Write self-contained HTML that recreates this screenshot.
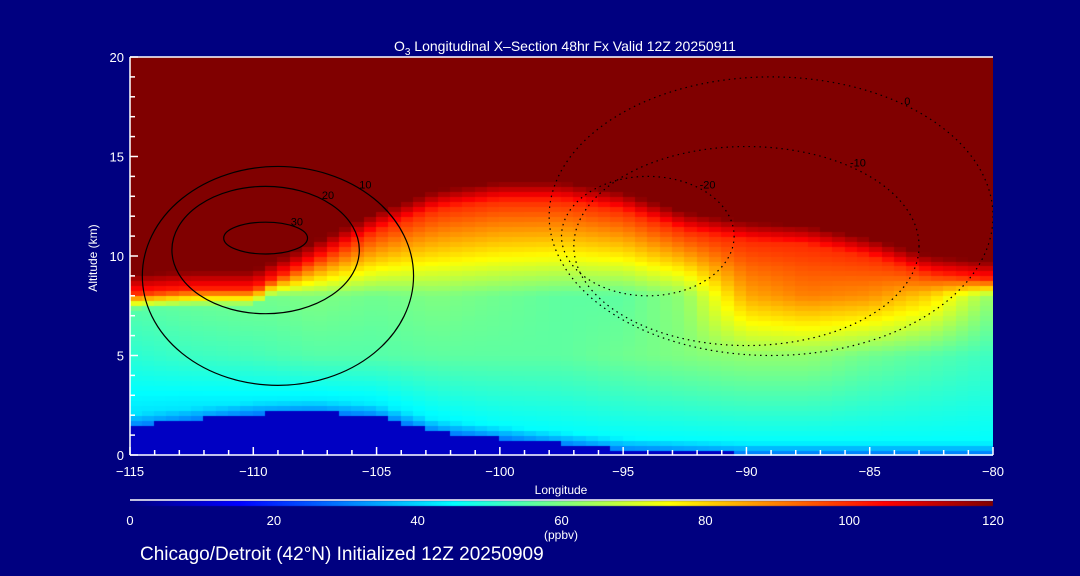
<!DOCTYPE html>
<html><head><meta charset="utf-8"><style>
html,body{margin:0;padding:0;background:#000080;}
#wrap{position:relative;width:1080px;height:576px;background:#000080;overflow:hidden;font-family:"Liberation Sans",sans-serif;color:#fff;}
canvas{position:absolute;left:0;top:0;}
svg{position:absolute;left:0;top:0;}
</style></head><body>
<div id="wrap">
<canvas id="field" width="1080" height="576"></canvas>
<svg id="ov" width="1080" height="576"></svg>
</div>
<script>
// data
const lonCols=[-115,-112.5,-110,-107.5,-105,-102.5,-100,-97.5,-95,-92.5,-90,-87.5,-85,-82.5,-80];
const tropoKm=[9.3,9.5,9.5,11,12.5,13.6,14,14,13.5,12.5,12,11.8,11.2,10.3,10];
const surfaceKm=[1.5,1.8,2.1,2.2,2.0,1.2,0.9,0.6,0.3,0.2,0.1,0.1,0.1,0.1,0.1];
const lowVals=[42,42,43,43,43,44,45,45,45,45,45,45,45,45,45];
const midVals=[50,52,53,55,55,56,56,56,58,60,62,62,58,55,52];
const upVals=[55,57,58,60,58,60,58,56,56,62,85,90,88,80,62];
const xTicks=[-115,-110,-105,-100,-95,-90,-85,-80];
const yTicks=[0,5,10,15,20];
const cbTicks=[0,20,40,60,80,100,120];
// contours: center lon, center alt, half-width lon, half-height km, label, dotted
const contourCx=[-109.5,-109.5,-109,-94,-90,-89];
const contourCy=[10.9,10.3,9,11,10.5,12];
const contourRx=[1.7,3.8,5.5,3.5,7,9];
const contourRy=[0.8,3.2,5.5,3,5,7];
const contourLbl=['30','20','10','-20','-10','0'];
const contourDot=[0,0,0,1,1,1];

const X0=130,X1=993,Y0=455,Y1=57;
const xs=l=>X0+(l+115)/35*(X1-X0);
const ys=a=>Y0-a/20*(Y0-Y1);
function jet(v){let t=Math.max(0,Math.min(1,v/120));
 const f=(a)=>Math.max(0,Math.min(1,a));
 let r=f(Math.min(4*t-1.5,-4*t+4.5)),g=f(Math.min(4*t-0.5,-4*t+3.5)),b=f(Math.min(4*t+0.5,-4*t+2.5));
 return `rgb(${Math.round(r*255)},${Math.round(g*255)},${Math.round(b*255)})`;}
function lerpArr(arr,lon){let p=(lon+115)/2.5;let i=Math.min(13,Math.floor(p));let t=p-i;return arr[i]*(1-t)+arr[i+1]*t;}
function val(lon,z){
 const s=lerpArr(surfaceKm,lon),tp=lerpArr(tropoKm,lon),lo=lerpArr(lowVals,lon),mi=lerpArr(midVals,lon),up=lerpArr(upVals,lon);
 if(z<s) return 8;
 if(z>=tp) return 125;
 const pts=[[s,30],[s+0.6,lo],[5,mi],[Math.min(8,tp-2),up],[tp-1.2,100],[tp,125]].filter((p,i,a)=>i==0||p[0]>a[0][0]);
 pts.sort((a,b)=>a[0]-b[0]);
 for(let i=0;i<pts.length-1;i++){if(z>=pts[i][0]&&z<=pts[i+1][0]){const t=(z-pts[i][0])/Math.max(1e-6,pts[i+1][0]-pts[i][0]);return pts[i][1]*(1-t)+pts[i+1][1]*t;}}
 return up;}
const ctx=document.getElementById('field').getContext('2d');
for(let lon=-115;lon<-80;lon+=0.5){for(let z=0;z<20;z+=0.25){
 ctx.fillStyle=jet(val(lon+0.25,z+0.125));
 const x=xs(lon),y=ys(z+0.25);ctx.fillRect(Math.floor(x),Math.floor(y),Math.ceil(xs(lon+0.5)-x)+1,Math.ceil(ys(z)-y)+1);}}
// colorbar
for(let i=0;i<=862;i++){ctx.fillStyle=jet(i/862*120);ctx.fillRect(130+i,501,1,5);}
const svg=document.getElementById('ov');const NS='http://www.w3.org/2000/svg';
function mk(t,a,p){const e=document.createElementNS(NS,t);for(const k in a)e.setAttribute(k,a[k]);(p||svg).appendChild(e);return e;}
// contours
for(let i=0;i<contourCx.length;i++){
 const cx=xs(contourCx[i]),cy=ys(contourCy[i]),rx=contourRx[i]/35*863,ry=contourRy[i]/20*398;
 const e=mk('ellipse',{cx:cx,cy:cy,rx:rx,ry:ry,fill:'none',stroke:'#000','stroke-width':1.2,'stroke-dasharray':contourDot[i]?'1.5 4':'none'});
 
 
 const t=mk('text',{x:cx+rx*0.6,y:cy-ry*0.8,fill:'#000','font-size':11});t.textContent=contourLbl[i];
 
 
}
// clip region cover beyond plot
mk('rect',{x:0,y:0,width:X0,height:576,fill:'#000080'});
mk('rect',{x:X1,y:0,width:90,height:576,fill:'#000080'});
mk('rect',{x:X0,y:0,width:870,height:Y1,fill:'#000080'});
mk('rect',{x:X0,y:Y0+1,width:870,height:44,fill:'#000080'});
// axes
const ax=mk('g',{stroke:'#fff','stroke-width':1.5});


mk('line',{x1:X0,y1:Y1,x2:X1,y2:Y1},ax);mk('line',{x1:X0,y1:Y0,x2:X1,y2:Y0},ax);
mk('line',{x1:X0,y1:Y1,x2:X0,y2:Y0},ax);mk('line',{x1:X0,y1:500,x2:X1,y2:500},ax);
for(let l=-115;l<=-80;l++){const x=xs(l);const L=(l%5==0)?8:5;mk('line',{x1:x,y1:Y0,x2:x,y2:Y0-L},ax);}
for(let z=0;z<=20;z++){const y=ys(z);const L=(z%5==0)?8:5;mk('line',{x1:X0,y1:y,x2:X0+L,y2:y},ax);}
function txt(s,x,y,fs,anc,name){const t=mk('text',{x:x,y:y,fill:'#fff','font-size':fs,'text-anchor':anc||'middle','font-family':'Liberation Sans, sans-serif'});t.textContent=s;
 
 return t;}
xTicks.forEach(v=>txt('\u2212'+Math.abs(v),xs(v),476,13,'middle','x-tick-label'));
yTicks.forEach(v=>txt(String(v),124,ys(v)+5,13,'end','y-tick-label'));
cbTicks.forEach(v=>txt(String(v),130+v/120*863,525,13,'middle','colorbar-tick-label'));
txt('Longitude',561,494,12,'middle','x-axis-title');
txt('(ppbv)',561,539,12,'middle','colorbar-unit');
const yt=txt('Altitude (km)',97,258,12,'middle','y-axis-title');yt.setAttribute('transform','rotate(-90 97 258)');
const tt=txt('',565,51,14,'middle','chart-title');tt.innerHTML='O<tspan dy="4" font-size="10">3</tspan><tspan dy="-4"> Longitudinal X\u2013Section 48hr  Fx Valid 12Z 20250911</tspan>';
tt.setAttribute('xml:space','preserve');
txt('Chicago/Detroit (42°N) Initialized 12Z 20250909',140,560,19,'start','subtitle');
</script>
</body></html>
